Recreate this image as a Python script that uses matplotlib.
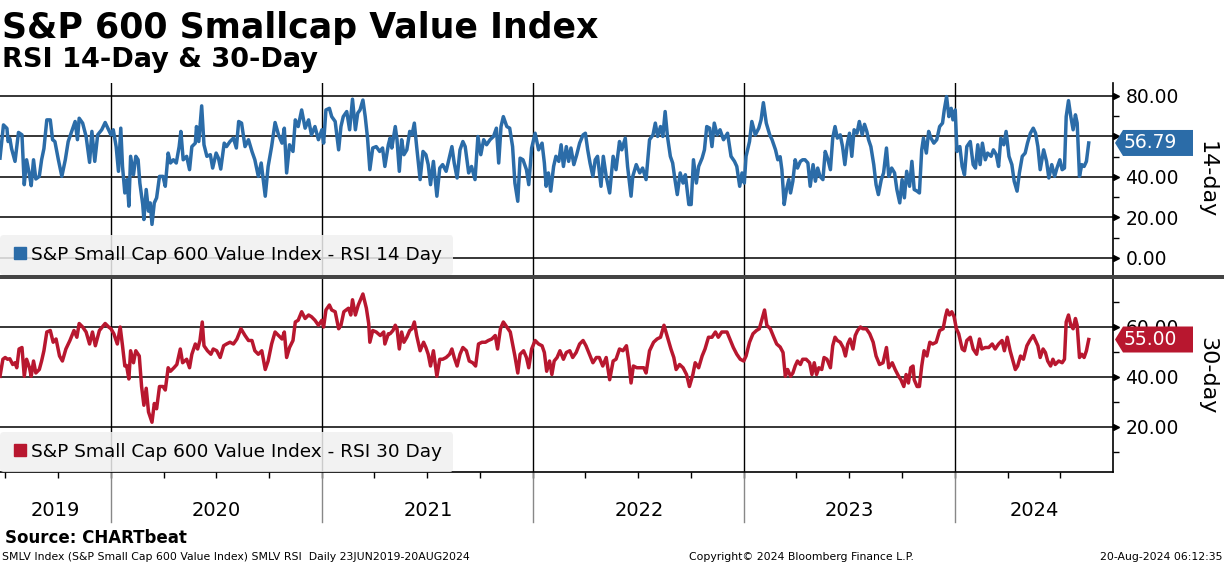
import pandas as pd
import matplotlib
matplotlib.use("Agg")
import matplotlib.pyplot as plt
import matplotlib.dates as mdates
from matplotlib.lines import Line2D
from matplotlib.patches import Polygon, Rectangle
from matplotlib.transforms import blended_transform_factory, IdentityTransform

START = "2019-06-23"
END_AXIS = "2024-09-30"

# RSI 14 day: days since START, value
rsi14_days = [
    0, 6, 12, 14, 17, 20, 26, 32, 38, 42, 46, 51, 54, 58, 62, 68, 72, 76, 81, 87,
    91, 95, 101, 107, 113, 118, 124, 130, 134, 137, 143, 149, 155, 159, 164, 169, 176, 182, 188, 192,
    196, 201, 205, 209, 212, 216, 220, 223, 226, 231, 235, 239, 242, 247, 249, 253, 257, 260, 263, 267,
    271, 276, 282, 286, 291, 295, 300, 305, 310, 313, 317, 323, 328, 332, 338, 340, 344, 349, 353, 358,
    364, 368, 374, 378, 382, 388, 392, 398, 404, 409, 413, 418, 424, 430, 436, 441, 447, 452, 459, 464,
    470, 476, 482, 488, 492, 496, 501, 507, 511, 516, 522, 528, 534, 539, 545, 551, 557, 560, 564, 570,
    574, 580, 586, 590, 594, 600, 605, 610, 615, 619, 623, 628, 632, 636, 640, 645, 651, 657, 662, 666,
    672,
    675, 678, 684, 687, 691, 695, 699, 704, 709, 713, 717, 721, 727, 732, 737, 741, 745, 750, 756, 761,
    766, 772, 778, 782, 786, 791, 796, 801, 805, 811, 816, 822, 827, 832, 837, 842, 848, 854, 859, 863,
    867, 871, 877, 882, 887, 891, 896, 900, 905, 911, 915, 920, 926, 932, 938, 942, 945, 949, 953, 958,
    962, 967, 971, 975, 980, 984, 988, 993, 998, 1003, 1009, 1013, 1017, 1021, 1026, 1030, 1034, 1040, 1044, 1049,
    1055, 1061, 1066, 1072, 1076, 1082, 1086, 1092, 1095, 1101, 1107, 1112, 1118, 1124, 1130, 1134, 1138, 1143, 1147, 1151,
    1155, 1160, 1164, 1168, 1172, 1177, 1182, 1186, 1192, 1196, 1200, 1205, 1209, 1215, 1219, 1223, 1228, 1232, 1236, 1241,
    1246, 1252, 1259, 1265, 1271, 1275, 1280, 1284, 1288, 1291, 1297, 1301, 1307, 1313, 1317, 1321, 1326, 1332, 1336, 1342,
    1346,
    1350, 1353, 1357, 1361, 1365, 1368, 1372, 1376, 1380, 1385, 1389, 1393, 1398, 1402, 1407, 1411, 1415, 1419, 1424, 1428,
    1432, 1437, 1441, 1445, 1449, 1454, 1458, 1462, 1466, 1470, 1474, 1478, 1483, 1487, 1492, 1496, 1500, 1503, 1507, 1512,
    1516, 1520, 1525, 1529, 1534, 1538, 1543, 1548, 1552, 1557, 1561, 1565, 1569, 1574, 1578, 1582, 1587, 1591, 1595, 1598,
    1603, 1607, 1611, 1616, 1621, 1626, 1631, 1634, 1638, 1642, 1646, 1649, 1653, 1656, 1661, 1665, 1669, 1673, 1679, 1684,
    1688, 1692, 1696, 1700, 1705, 1709, 1715, 1719, 1724, 1728, 1732, 1737, 1741, 1746, 1751, 1755, 1760, 1764, 1769, 1774,
    1778, 1783, 1788, 1792, 1796, 1800, 1806, 1811, 1815, 1820, 1825, 1829, 1834, 1838, 1842, 1845, 1849, 1853, 1857, 1861,
    1864, 1868, 1872, 1876, 1880, 1884,
]
rsi14_vals = [
    49.3, 65.7, 64, 57.5, 59, 54, 47.7, 62, 60.8, 36.2, 48.5, 41, 35.7, 48.5, 39, 40.3, 48.5, 54, 68.2, 68.2,
    58.4, 57.5, 48.5, 40.3, 48.5, 57.5, 62.5, 67.4, 58.4, 69, 66.6, 60, 47.2, 62.5, 47.7, 60.8, 63.3, 66.9, 63.3, 60.8,
    63.3, 55, 42.8, 64.1, 45.2, 32.1, 38.7, 25.6, 50.2, 41.1, 50.2, 48.5, 37, 26.4, 19, 33.8, 23.1, 27.2, 16.6, 27.2,
    29.7, 40.3, 40.3, 35.4, 51.8, 46.9, 48.5, 46.9, 55, 62.5, 48.5, 50.2, 43.6, 55, 56.7, 64.9, 57.5, 75.1, 55.9, 50.2,
    51, 44.4, 51.8, 49.3, 43.9, 56.7, 55, 57.5, 59.2, 54.3, 67.4, 66.6, 55, 58.4, 52.6, 48.5, 40.3, 46.9, 30.5, 45.2,
    55, 66.9, 60.8, 56.7, 64.1, 42, 55.9, 52.6, 68.2, 64.9, 73.1, 64.1, 68.2, 60.8, 64.9, 58.4, 63.3, 56.7, 73.1, 73.9,
    69.8, 67.4, 53.4, 64.9, 69.8, 72.3, 63.3, 78.4, 63.3, 71.5, 73.1, 78, 69.8, 59.2, 43.6, 54.3, 55, 52.6, 54.3, 45.2,
    55.9,
    59.2, 54.3, 64.9, 58.4, 42.8, 58.4, 51, 53.4, 62.5, 60.8, 66.6, 55, 38.7, 52.6, 51, 46.1, 36.2, 47.7, 30.5, 44.4,
    46.1, 42.8, 50.2, 55, 46.9, 39.5, 53.4, 57.5, 55, 42, 45.2, 38.7, 60, 51, 58.4, 55.9, 58.4, 60, 64.1, 46.9,
    64.9, 69.8, 64.9, 64.1, 55, 37, 28, 49.3, 48.5, 43.6, 36.2, 54.3, 61.6, 53.4, 56.7, 46.9, 35.4, 42, 33, 45.2,
    50.2, 47.7, 55.9, 45.2, 55, 47.7, 54.3, 46.1, 51, 56.7, 60.8, 61.6, 53.4, 46.9, 40.3, 48.5, 50.2, 35.4, 50.2, 40.3,
    32.1, 50.2, 43.6, 57.5, 53.4, 59.2, 45.2, 30.5, 40.3, 46.1, 42, 44.4, 38.7, 58.4, 60.8, 66.6, 60, 64.9, 60, 72.3,
    60, 50.2, 46.9, 38.7, 31.3, 42, 37, 41.1, 26.4, 26.4, 48.5, 37, 45.2, 49.3, 53.4, 64.9, 64.1, 55, 66.6, 60.8,
    63.3, 58.4, 61.6, 50.2, 47.7, 45.2, 35.4, 42, 37, 50.2, 57.5, 67.4, 60.8, 64.1, 68.2, 76.7, 66.6, 60.8, 58.4, 53.4,
    48.5,
    50, 43.6, 26.4, 33.8, 38.7, 32.1, 37.9, 48.5, 44.4, 47.7, 48.5, 48.5, 46.9, 35.4, 46.1, 37.9, 44.4, 40.3, 38.7, 52.6,
    49.3, 43.6, 59.2, 64.9, 59.2, 60.8, 55, 46.1, 55.9, 61.6, 50.2, 63.3, 61.6, 67.4, 60.8, 66, 62.5, 58.4, 55, 46.1,
    36.2, 31.3, 38.7, 42, 54.3, 40.3, 44.4, 42, 33.8, 27.2, 38.7, 29.7, 42.8, 35.4, 47.7, 33.8, 33, 32.1, 53.4, 59.2,
    51.8, 62.5, 59.2, 56.7, 58.4, 64.9, 66.6, 73.1, 79.7, 69.8, 73.9, 68.2, 73.1, 52.6, 55, 45.2, 41.1, 55, 57.5, 46.1,
    44.4, 55.9, 46.1, 56.7, 48.5, 51.8, 50.2, 53.4, 51, 45.2, 59.2, 55.9, 62.5, 50.2, 46.1, 37.9, 33, 42, 50.2, 51.8,
    56.7, 61.6, 64.1, 61.6, 55, 43.6, 53.4, 47.7, 39.5, 46.1, 40.3, 44.4, 48.5, 43.6, 44.4, 69.8, 77.7, 69.8, 63.3, 70.7,
    66.6, 40.3, 46.1, 45.2, 47.7, 56.79,
]

# RSI 30 day
rsi30_days = [
    0, 5, 9, 13, 17, 22, 26, 29, 33, 38, 42, 46, 51, 54, 58, 62, 68, 72, 76, 81,
    87, 92, 97, 103, 108, 114, 121, 128, 133, 137, 143, 149, 155, 160, 165, 172, 182, 188, 192, 197,
    203, 208, 212, 216, 219, 223, 226, 231, 235, 241, 245, 249, 253, 257, 260, 263, 267, 271, 276, 282,
    286, 291, 295, 301, 306, 312, 316, 323, 328, 332, 338, 342, 346, 350, 353, 359, 365, 369, 375, 381,
    387, 392, 398, 404, 410, 417, 424, 430, 436, 441, 447, 453, 459, 464, 470, 476, 482, 488, 492, 496,
    501, 507, 511, 516, 522, 528, 534, 539, 545, 551, 557, 560, 564, 570, 574, 580, 586, 590, 595, 603,
    607, 610, 615, 620, 628, 634, 638, 640, 645, 651, 658, 664, 666, 672,
    675, 680, 684, 687, 691, 695, 699, 704, 709, 713, 717, 721, 727, 733, 737, 741, 745, 750, 756, 761,
    766, 772, 778, 782, 786, 791, 796, 801, 807, 812, 818, 823, 828, 834, 840, 845, 851, 857, 861, 866,
    871, 877, 883, 887, 891, 896, 900, 906, 911, 915, 920, 926, 932, 938, 942, 946, 951, 955, 959, 964,
    969, 975, 980, 986, 991, 997, 1003, 1009, 1014, 1020, 1026, 1032, 1037, 1043, 1049, 1055, 1061, 1066, 1072, 1078,
    1084, 1088, 1092, 1096, 1102, 1108, 1114, 1118, 1124, 1131, 1137, 1143, 1149, 1155, 1161, 1166, 1170, 1176, 1182, 1188,
    1193, 1199, 1203, 1209, 1215, 1220, 1226, 1232, 1238, 1243, 1249, 1258, 1264, 1269, 1275, 1281, 1287, 1291, 1297, 1303,
    1309, 1314, 1318, 1323, 1327, 1333, 1339, 1344,
    1350, 1355, 1359, 1363, 1368, 1372, 1376, 1380, 1385, 1389, 1395, 1401, 1405, 1409, 1413, 1417, 1422, 1426, 1431, 1437,
    1441, 1445, 1449, 1454, 1459, 1463, 1467, 1471, 1476, 1480, 1484, 1489, 1493, 1499, 1505, 1511, 1516, 1522, 1528, 1534,
    1538, 1544, 1549, 1555, 1559, 1564, 1568, 1572, 1576, 1580, 1582, 1587, 1591, 1595, 1599, 1604, 1609, 1614, 1620, 1626,
    1632, 1636, 1639, 1643, 1647, 1651, 1655, 1659, 1665, 1669, 1673, 1679, 1684, 1690, 1695, 1699, 1705, 1711, 1717, 1722,
    1728, 1734, 1738, 1743, 1748, 1753, 1757, 1761, 1766, 1771, 1777, 1782, 1788, 1792, 1796, 1800, 1805, 1809, 1813, 1818,
    1822, 1826, 1832, 1838, 1842, 1845, 1849, 1853, 1857, 1861, 1864, 1868, 1872, 1876, 1880, 1884,
]
rsi30_vals = [
    40.3, 47.1, 47.8, 47.1, 47.3, 45, 45.7, 43.7, 51.2, 51.8, 40.3, 47.1, 43.7, 40.3, 46.4, 41.6, 43, 46.4, 50.5, 58,
    58.6, 53.9, 55.2, 48.4, 46.4, 51.2, 54.6, 58.6, 55.9, 61.4, 60, 58, 53.2, 58, 52.5, 58.6, 61.4, 60, 59.3, 57.3,
    53.2, 60, 52.5, 44.4, 44.6, 39.2, 50.5, 45.7, 50.5, 48.4, 36.2, 28.7, 35.5, 26, 23.9, 21.9, 29.4, 27.3, 36.2, 36.2,
    34.8, 43.7, 42.3, 43.7, 45, 51.2, 45.7, 47.1, 43.7, 49.1, 53.2, 51.2, 54.6, 62, 52.5, 50.5, 49.1, 51.2, 50.5, 47.8,
    52.5, 53.2, 53.9, 53.2, 55.2, 59.3, 56.6, 54.6, 54.6, 50.5, 49.1, 50.5, 43, 46.4, 53.2, 58, 56.6, 55.2, 58, 47.8,
    51.8, 54.6, 62, 62.7, 66.1, 63.4, 64.8, 64.1, 62.7, 60.7, 62.7, 60, 66.8, 68.8, 66.8, 66.1, 59.3, 60.7, 66.1, 67.5,
    64.8, 70.9, 64.8, 68.8, 73.2, 67.5, 61.4, 53.9, 58.6, 58, 56.6, 58, 53.2, 57.3,
    57.3, 58.6, 60.7, 59.3, 51.2, 58, 53.9, 55.9, 58.6, 59.3, 62, 56.6, 50.5, 53.9, 51.8, 49.1, 44.4, 50.5, 40.3, 47.1,
    47.1, 47.8, 49.1, 51.2, 47.8, 44.4, 49.1, 51.8, 50.5, 46.4, 45.7, 44.4, 53.2, 53.9, 53.9, 54.6, 55.2, 56.6, 51.2, 59.3,
    62, 60, 58, 53.2, 48.4, 41.6, 49.1, 50.5, 47.8, 43.7, 51.2, 54.6, 53.2, 52.5, 49.8, 42.3, 46.4, 41, 46.4, 47.8,
    50.5, 47.1, 49.8, 50.5, 47.8, 49.8, 53.2, 54.6, 52.5, 49.1, 45.7, 47.8, 47.8, 44.4, 47.8, 38.9, 46.4, 47.1, 51.2, 50.5,
    52.5, 46.4, 37.6, 44.4, 43.7, 43.7, 43.7, 41.6, 50.5, 53.9, 55.2, 55.9, 60.7, 55.9, 51.2, 47.8, 43, 45, 43.7, 41,
    36.2, 41, 45.7, 43.7, 48.4, 51.2, 55.9, 55.9, 58, 55.9, 58, 58, 54.6, 51.8, 49.1, 47.1, 46.4, 48.4, 53.9, 57.3,
    58.6, 59.3, 62.7, 66.8, 60.7, 59.3, 55.9, 53.2,
    52, 49.8, 40.3, 43, 40.3, 41.6, 44.4, 46.4, 45, 47.1, 47.1, 45.7, 41, 45.7, 41, 43.7, 43, 47.8, 47.1, 43.7,
    52.5, 55.9, 54.6, 53.9, 51.8, 48.4, 53.2, 55.2, 51.2, 56.6, 58.6, 60, 59.3, 59.3, 57.3, 53.9, 48.4, 45, 45.7, 51.8,
    43.7, 45.7, 43, 40.3, 38.9, 36.2, 41, 37.6, 43.7, 44.4, 38.9, 36.2, 36.2, 44.4, 50.5, 48.4, 53.9, 53.2, 53.9, 58.6,
    59.3, 64.1, 66.8, 64.8, 66.1, 64.1, 59.3, 57.3, 51.2, 50.5, 54.6, 55.9, 51.2, 49.1, 55.2, 51.2, 51.8, 51.8, 53.2, 51.2,
    53.2, 54.6, 50.5, 55.9, 50.5, 46.4, 43, 44.4, 48.4, 47.1, 52.5, 54.6, 56.6, 54.6, 52.5, 47.8, 51.2, 49.8, 46.4, 44.4,
    47.1, 45, 46.4, 45.7, 47.1, 62, 64.8, 60.7, 59.3, 63.4, 60.7, 47.8, 49.1, 47.8, 50.5, 55.0,
]

years = [2019, 2020, 2021, 2022, 2023, 2024]
top_ticks = [0, 20, 40, 60, 80]
top_labels = ["0.00", "20.00", "40.00", "", "80.00"]   # 60.00 sits under the value tag
bottom_ticks = [20, 40, 60]
bottom_labels = ["20.00", "40.00", "60.00"]

BLUE = "#2b6ca8"
RED = "#b8172f"

W, H = 1224, 566


def fx(px):
    return px / W


def fy(py):
    return 1 - py / H


def main():
    assert len(rsi14_days) == len(rsi14_vals)
    assert len(rsi30_days) == len(rsi30_vals)

    start = pd.Timestamp(START)
    end = pd.Timestamp(END_AXIS)
    d14 = start + pd.to_timedelta(rsi14_days, unit="D")
    d30 = start + pd.to_timedelta(rsi30_days, unit="D")

    fig = plt.figure(figsize=(W / 100, H / 100), dpi=100)
    ax1 = fig.add_axes([0, fy(275), fx(1113), fy(83) - fy(275)])
    ax2 = fig.add_axes([0, fy(472), fx(1113), fy(279) - fy(472)])

    panels = [
        (ax1, d14, rsi14_vals, BLUE, top_ticks, top_labels, (-8.4, 86.4), "RSI 14 Day"),
        (ax2, d30, rsi30_vals, RED, bottom_ticks, bottom_labels, (2, 79.2), "RSI 30 Day"),
    ]

    for ax, d, vals, col, ticks, labels, ylim, name in panels:
        ax.plot(d, vals, color=col, lw=2.5, zorder=3, solid_joinstyle="round")
        ax.set_xlim(start, end)
        ax.set_ylim(*ylim)
        for s in ["top", "left", "bottom"]:
            ax.spines[s].set_visible(False)
        ax.spines["right"].set_linewidth(1.2)

        ax.yaxis.tick_right()
        ax.set_yticks(ticks)
        ax.set_yticklabels(labels)
        ax.set_yticks([t + 10 for t in range(0, 80, 20)], minor=True)
        ax.tick_params(axis="y", which="major", length=0, pad=9, labelsize=13.5)
        ax.tick_params(axis="y", which="minor", length=4, width=1, direction="out")
        for t in ticks:
            ax.axhline(t, color="black", lw=1.1, zorder=1)
        trans = blended_transform_factory(ax.transAxes, ax.transData)
        ax.plot([1.003] * len(ticks), ticks, ls="none", marker=">", ms=5,
                color="black", transform=trans, clip_on=False)

        for y in years[1:]:
            ax.axvline(pd.Timestamp(f"{y}-01-01"), color="black", lw=1.0, zorder=1)

        h = Line2D([], [], marker="s", color=col, ls="none", markersize=9)
        leg = ax.legend([h], ["S&P Small Cap 600 Value Index - " + name],
                        loc="lower left", bbox_to_anchor=(0, 0), borderaxespad=0,
                        fontsize=13.3, handletextpad=0.1, handlelength=1.0,
                        borderpad=0.6, fancybox=True, framealpha=0.85)
        leg.get_frame().set_facecolor("#f0f0f0")
        leg.get_frame().set_edgecolor("none")
        leg.set_zorder(5)

        ax.set_xticks([])

    # last value tags
    for ax, val, col, lab in [(ax1, 56.79, BLUE, "56.79"), (ax2, 55.00, RED, "55.00")]:
        yd = ax.transData.transform((0, val))[1]
        poly = Polygon([(1115, yd), (1123, yd + 13), (1193, yd + 13), (1193, yd - 13), (1123, yd - 13)],
                       closed=True, facecolor=col, edgecolor="none", transform=IdentityTransform(),
                       zorder=10)
        fig.add_artist(poly)
        fig.text(fx(1124), yd / H, lab, color="white", fontsize=13.5, ha="left", va="center", zorder=11)

    fig.text(fx(1207), fy(180), "14-day", rotation=270, ha="center", va="center", fontsize=16)
    fig.text(fx(1207), fy(376), "30-day", rotation=270, ha="center", va="center", fontsize=16)

    # bottom time axis
    ax2.spines["bottom"].set_visible(True)
    ax2.spines["bottom"].set_linewidth(1.2)
    ax2.xaxis.set_major_locator(mdates.MonthLocator(bymonth=[1, 4, 7, 10]))
    ax2.tick_params(axis="x", which="major", length=4, width=1, direction="out", labelbottom=False)
    xt = blended_transform_factory(ax2.transData, ax2.transAxes)
    for y in years:
        a = max(pd.Timestamp(f"{y}-01-01"), start)
        b = min(pd.Timestamp(f"{y + 1}-01-01"), end)
        ax2.text(a + (b - a) / 2, -0.2, str(y), transform=xt, ha="center", va="center", fontsize=14)
        if y > years[0]:
            ax2.plot([pd.Timestamp(f"{y}-01-01")] * 2, [0, -0.26], color="#888888", lw=1,
                     transform=xt, clip_on=False)

    # separator between panels
    fig.add_artist(Rectangle((0, fy(279)), 1, fy(275) - fy(279), transform=fig.transFigure,
                             facecolor="#444444", edgecolor="none"))

    fig.text(fx(2), fy(38), "S&P 600 Smallcap Value Index", fontsize=25, fontweight="bold", va="baseline")
    fig.text(fx(2), fy(67), "RSI 14-Day & 30-Day", fontsize=19.5, fontweight="bold", va="baseline")
    fig.text(fx(5), fy(543), "Source: CHARTbeat", fontsize=12, fontweight="bold", va="baseline")
    fig.text(fx(2), fy(560), "SMLV Index (S&P Small Cap 600 Value Index) SMLV RSI  Daily 23JUN2019-20AUG2024",
             fontsize=7.8, va="baseline")
    fig.text(fx(801), fy(560), "Copyright\u00a9 2024 Bloomberg Finance L.P.", fontsize=7.8, va="baseline", ha="center")
    fig.text(fx(1222), fy(560), "20-Aug-2024 06:12:35", fontsize=7.8, va="baseline", ha="right")

    fig.savefig("out.png", dpi=100)
    plt.close(fig)


if __name__ == "__main__":
    main()
